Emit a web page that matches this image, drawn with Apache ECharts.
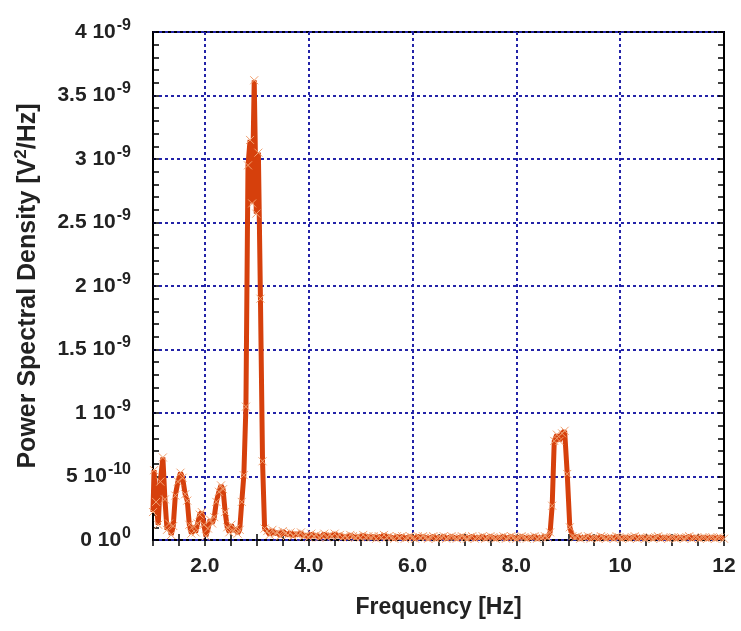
<!DOCTYPE html>
<html>
<head>
<meta charset="utf-8">
<script src="https://cdn.jsdelivr.net/npm/echarts@6/dist/echarts.min.js"></script>
<style>
  html, body { margin: 0; padding: 0; background: #fff; }
  #chart { width: 741px; height: 631px; }
</style>
</head>
<body>
<div id="chart"></div>
<script>
// PSD values in units of 1e-9 V^2/Hz, frequency in Hz
var lowBand = [
  [1.00,0.22],[1.02,0.55],[1.06,0.30],[1.10,0.12],[1.14,0.46],[1.19,0.65],[1.23,0.32],[1.27,0.08],
  [1.31,0.13],[1.35,0.04],[1.39,0.11],[1.43,0.35],[1.48,0.46],[1.53,0.53],[1.57,0.49],[1.62,0.36],
  [1.66,0.31],[1.70,0.12],[1.74,0.05],[1.78,0.11],[1.82,0.06],[1.86,0.13],[1.90,0.20],[1.94,0.22],
  [1.98,0.12],[2.02,0.03],[2.06,0.09],[2.10,0.16],[2.14,0.13],[2.18,0.18],[2.22,0.30],[2.27,0.38],
  [2.31,0.43],[2.35,0.40],[2.39,0.22],[2.43,0.10],[2.47,0.06],[2.51,0.12],[2.55,0.07],[2.59,0.09],
  [2.63,0.05],[2.67,0.08]
];
var mainPeak = [
  [2.71,0.30],[2.75,0.51],[2.79,1.05],[2.83,2.95],[2.87,3.15],[2.91,2.65],[2.95,3.62],[2.99,2.57],
  [3.03,3.05],[3.07,1.90],[3.11,0.62],[3.15,0.09]
];
var flatBand = [
  [3.20,0.07],[3.25,0.04],[3.30,0.08],[3.35,0.05],[3.40,0.06],[3.45,0.03],[3.50,0.07],[3.55,0.05],
  [3.60,0.04],[3.65,0.06],[3.70,0.03],[3.75,0.05],[3.80,0.04],[3.85,0.06],[3.90,0.03],[3.95,0.04],
  [4.00,0.02],[4.05,0.05],[4.10,0.03],[4.15,0.04],[4.20,0.02],[4.25,0.03],[4.30,0.05],[4.35,0.02],
  [4.40,0.04],[4.45,0.03],[4.50,0.05],[4.55,0.03],[4.60,0.04],[4.65,0.02],[4.70,0.03],[4.75,0.02],
  [4.80,0.04],[4.85,0.03],[4.90,0.02],[4.95,0.03],[5.00,0.02],[5.05,0.04],[5.10,0.02],[5.15,0.03],
  [5.20,0.02],[5.25,0.03],[5.30,0.01],[5.35,0.03],[5.40,0.02],[5.45,0.04],[5.50,0.02],[5.55,0.03],
  [5.60,0.02],[5.65,0.01],[5.70,0.03],[5.75,0.02],[5.80,0.03],[5.85,0.01],[5.90,0.02],[5.95,0.03],
  [6.00,0.02],[6.05,0.01],[6.10,0.03],[6.15,0.02],[6.20,0.03],[6.25,0.02],[6.30,0.01],[6.35,0.02],
  [6.40,0.03],[6.45,0.01],[6.50,0.02],[6.55,0.02],[6.60,0.03],[6.65,0.01],[6.70,0.02],[6.75,0.03],
  [6.80,0.02],[6.85,0.01],[6.90,0.02],[6.95,0.03],[7.00,0.02],[7.05,0.01],[7.10,0.02],[7.15,0.03],
  [7.20,0.01],[7.25,0.02],[7.30,0.02],[7.35,0.03],[7.40,0.01],[7.45,0.02],[7.50,0.03],[7.55,0.02],
  [7.60,0.01],[7.65,0.02],[7.70,0.02],[7.75,0.03],[7.80,0.01],[7.85,0.02],[7.90,0.03],[7.95,0.02],
  [8.00,0.01],[8.05,0.02],[8.10,0.03],[8.15,0.02],[8.20,0.01],[8.25,0.02],[8.30,0.02],[8.35,0.03],
  [8.40,0.01],[8.45,0.02],[8.50,0.02],[8.55,0.03]
];
var peak9 = [
  [8.60,0.02],[8.65,0.06],[8.69,0.27],[8.73,0.78],[8.78,0.83],[8.83,0.78],[8.88,0.84],[8.93,0.86],
  [8.98,0.52],[9.03,0.10],[9.08,0.03]
];
var tail = [
  [9.13,0.02],[9.18,0.03],[9.23,0.01],[9.28,0.02],[9.33,0.02],[9.38,0.03],[9.43,0.01],[9.48,0.02],
  [9.53,0.02],[9.58,0.01],[9.63,0.03],[9.68,0.02],[9.73,0.01],[9.78,0.02],[9.83,0.02],[9.88,0.01],
  [9.93,0.03],[9.98,0.02],[10.03,0.01],[10.08,0.02],[10.13,0.02],[10.18,0.01],[10.23,0.02],[10.28,0.03],
  [10.33,0.01],[10.38,0.02],[10.43,0.02],[10.48,0.01],[10.53,0.02],[10.58,0.02],[10.63,0.01],[10.68,0.02],
  [10.73,0.03],[10.78,0.01],[10.83,0.02],[10.88,0.02],[10.93,0.01],[10.98,0.02],[11.03,0.02],[11.08,0.01],
  [11.13,0.02],[11.18,0.02],[11.23,0.01],[11.28,0.02],[11.33,0.03],[11.38,0.01],[11.43,0.02],[11.48,0.02],
  [11.53,0.01],[11.58,0.02],[11.63,0.02],[11.68,0.01],[11.73,0.02],[11.78,0.02],[11.83,0.01],[11.88,0.02],
  [11.93,0.02],[12.00,0.01]
];

var xGridValues = [2, 4, 6, 8, 10];
var xTickValues = [2, 4, 6, 8, 10, 12];
var xTickLabels = ['2.0', '4.0', '6.0', '8.0', '10', '12'];
var yTickValues = [0, 0.5, 1, 1.5, 2, 2.5, 3, 3.5, 4];
var yTickMant = ['0', '5', '1', '1.5', '2', '2.5', '3', '3.5', '4'];
var yTickExp = ['0', '-10', '-9', '-9', '-9', '-9', '-9', '-9', '-9'];

var spectrum = lowBand.concat(mainPeak, flatBand, peak9, tail);

var FONT = '"Liberation Sans", Arial, sans-serif';
var gridColor = '#2323a8';
var lineColor = '#d6400c';

var chart = echarts.init(document.getElementById('chart'));

var tickStyle = { show: true, inside: true, length: 6, lineStyle: { color: '#000', width: 1.5 } };

function yLabel(v) {
  for (var i = 0; i < yTickValues.length; i++) {
    if (Math.abs(v - yTickValues[i]) < 1e-6) {
      return '{m|' + yTickMant[i] + ' 10}{s|' + yTickExp[i] + '}';
    }
  }
  return '';
}

var option = {
  animation: false,
  backgroundColor: '#fff',
  grid: {
    left: 153, right: 17, top: 32, bottom: 91,
    show: true, borderColor: '#000', borderWidth: 2, backgroundColor: 'transparent'
  },
  xAxis: [
    {
      type: 'value', position: 'bottom', min: 1, max: 12, interval: 0.5,
      axisLine: { show: false },
      axisTick: tickStyle,
      splitLine: { show: false },
      axisLabel: {
        fontFamily: FONT, fontSize: 21, fontWeight: 'bold', color: '#222', margin: 16,
        customValues: xTickValues,
        formatter: function (v) {
          var i = xTickValues.indexOf(Math.round(v * 100) / 100);
          return i >= 0 ? xTickLabels[i] : '';
        }
      },
      name: 'Frequency [Hz]', nameLocation: 'middle', nameGap: 56,
      nameTextStyle: { fontFamily: FONT, fontSize: 23, fontWeight: 'bold', color: '#222' }
    },
    {
      type: 'value', position: 'top', min: 1, max: 12, interval: 0.5,
      axisLine: { show: false }, axisTick: tickStyle, axisLabel: { show: false }, splitLine: { show: false }
    },
    {
      type: 'value', position: 'bottom', min: 1, max: 12,
      axisLine: { show: false }, axisLabel: { show: false },
      axisTick: { show: false, customValues: xGridValues },
      splitLine: { show: true, lineStyle: { color: gridColor, width: 2, type: [3, 3] } }
    }
  ],
  yAxis: [
    {
      type: 'value', position: 'left', min: 0, max: 4, interval: 0.5,
      axisLine: { show: false },
      axisTick: tickStyle,
      minorTick: { show: true, splitNumber: 5, length: 6, lineStyle: { color: '#000', width: 1.5 } },
      splitLine: { show: true, lineStyle: { color: gridColor, width: 2, type: [3, 3] } },
      axisLabel: {
        margin: 22,
        formatter: yLabel,
        rich: {
          m: { fontFamily: FONT, fontSize: 21, fontWeight: 'bold', color: '#222' },
          s: { fontFamily: FONT, fontSize: 16, fontWeight: 'bold', color: '#222', padding: [0, 0, 13, 1] }
        }
      },
      name: '{n|Power Spectral Density [V}{s|2}{n|/Hz]}', nameLocation: 'middle', nameRotate: 90, nameGap: 110,
      nameTextStyle: {
        rich: {
          n: { fontFamily: FONT, fontSize: 25, fontWeight: 'bold', color: '#222' },
          s: { fontFamily: FONT, fontSize: 17, fontWeight: 'bold', color: '#222', padding: [0, 0, 13, 0] }
        }
      }
    },
    {
      type: 'value', position: 'right', min: 0, max: 4, interval: 0.5,
      axisLine: { show: false }, axisTick: tickStyle, axisLabel: { show: false }, splitLine: { show: false },
      minorTick: { show: true, splitNumber: 5, length: 6, lineStyle: { color: '#000', width: 1.5 } }
    }
  ],
  series: [
    {
      type: 'line',
      xAxisIndex: 0, yAxisIndex: 0,
      data: spectrum,
      z: 5,
      symbol: 'path://M0,0L10,10M10,0L0,10',
      symbolSize: 8,
      showAllSymbol: true,
      lineStyle: { color: lineColor, width: 5 },
      itemStyle: { color: 'none', borderColor: '#f0a070', borderWidth: 1 }
    }
  ]
};

chart.setOption(option);
</script>
</body>
</html>
